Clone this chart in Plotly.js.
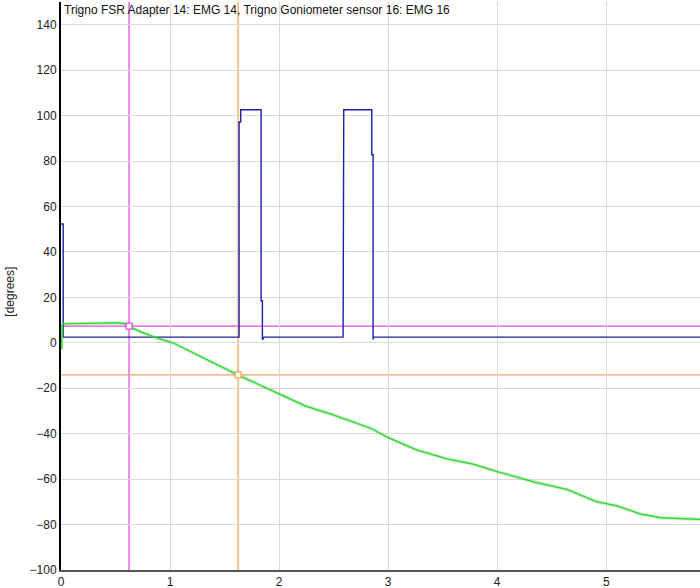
<!DOCTYPE html>
<html>
<head>
<meta charset="utf-8">
<script src="https://cdn.plot.ly/plotly-3.0.1.min.js"></script>
<style>
  html, body { margin: 0; padding: 0; background: #fff; }
  #grafico { width: 700px; height: 588px; }
</style>
</head>
<body>
<div id="grafico"></div>
<script>
// ---------------------------------------------------------------------
// DATOS
// ---------------------------------------------------------------------
const tituloGrafico = "Trigno FSR Adapter 14: EMG 14, Trigno Goniometer sensor 16: EMG 16";
const etiquetaY = "[degrees]";

// EMG 14 (azul): señal escalonada con dos pulsos
const emgX = [0, 0.02, 0.02, 1.633, 1.633, 1.648, 1.648, 1.835, 1.835, 1.847, 1.847, 1.862,
              2.587, 2.587, 2.593, 2.593, 2.850, 2.850, 2.862, 2.862, 2.867, 5.86];
const emgY = [52.3, 52.3, 2.5, 2.5, 97.2, 97.2, 102.6, 102.6, 18.5, 18.5, 1.3, 2.5,
              2.5, 86.9, 86.9, 102.6, 102.6, 82.8, 82.8, 1.5, 2.5, 2.5];

// Goniometro 16 (verde)
const gonioX = [0.005, 0.012, 0.1, 0.3, 0.5, 0.58, 0.62, 0.72, 0.85, 1.03, 1.34, 1.62, 1.95,
                2.25, 2.47, 2.68, 2.84, 3.0, 3.26, 3.54, 3.78, 4.0, 4.18, 4.36, 4.64, 4.91,
                5.1, 5.31, 5.5, 5.68, 5.86];
const gonioY = [-2.8, 8.3, 8.4, 8.7, 8.8, 8.5, 7.3, 5.0, 2.6, -0.1, -7.5, -14.1, -21.4,
                -28.0, -31.3, -34.7, -37.6, -41.7, -47.1, -51.1, -53.4, -56.7, -59.2, -61.5, -64.5, -69.9,
                -71.8, -75.3, -77.0, -77.5, -77.7];

// Cursores (magenta y naranja)
const cursorX = [0.624, 1.624];
const cursorY = [7.3, -14.1];
const cursorColor = ["#E34BE3", "#F0A45C"];

// ---------------------------------------------------------------------
// TRAZAS
// ---------------------------------------------------------------------
const trazaEMG = {
  x: emgX, y: emgY, type: "scatter", mode: "lines",
  line: { color: "#1E1EA6", width: 1.4 }, hoverinfo: "skip",
};

const trazaGonioHalo = {
  x: gonioX, y: gonioY, type: "scatter", mode: "lines",
  line: { color: "rgba(60,220,60,0.30)", width: 3.5 }, hoverinfo: "skip",
};

const trazaGonio = {
  x: gonioX, y: gonioY, type: "scatter", mode: "lines",
  line: { color: "#32D232", width: 1.3 }, hoverinfo: "skip",
};

const trazaMarcas = {
  x: cursorX, y: cursorY, type: "scatter", mode: "markers",
  marker: { symbol: "square", size: 6, color: "#fff", line: { width: 1.3, color: cursorColor } },
  hoverinfo: "skip",
};

// lineas de cursor, en coordenadas de datos
const lineasCursor = [];
cursorX.forEach((cx, i) => {
  lineasCursor.push({
    type: "line", xref: "x", yref: "paper", x0: cx, x1: cx, y0: 0, y1: 1,
    line: { color: cursorColor[i], width: 1.3 }, layer: "below",
  });
  lineasCursor.push({
    type: "line", xref: "paper", yref: "y", x0: 0, x1: 1, y0: cursorY[i], y1: cursorY[i],
    line: { color: cursorColor[i], width: 1.3 }, layer: "below",
  });
});

const fuente = { family: "Liberation Sans, Arial, sans-serif", size: 12, color: "#222" };

const layout = {
  width: 700, height: 588,
  margin: { l: 61, r: 0, t: 2, b: 18, pad: 0 },
  paper_bgcolor: "#fff", plot_bgcolor: "#fff",
  showlegend: false,
  font: fuente,
  xaxis: {
    range: [0, 5.86], dtick: 1, tick0: 0,
    showgrid: true, gridcolor: "#D9D9D9", gridwidth: 1,
    zeroline: false, showline: true, linecolor: "#555", linewidth: 2,
    ticks: "", tickfont: fuente, fixedrange: true,
  },
  yaxis: {
    range: [-100, 150],
    tickvals: [-100, -80, -60, -40, -20, 0, 20, 40, 60, 80, 100, 120, 140],
    showgrid: true, gridcolor: "#D9D9D9", gridwidth: 1,
    zeroline: false, showline: true, linecolor: "#000", linewidth: 2,
    ticks: "", tickfont: fuente, fixedrange: true,
  },
  shapes: lineasCursor,
  annotations: [
    {
      text: tituloGrafico, xref: "paper", yref: "paper", x: 0, y: 1,
      xanchor: "left", yanchor: "top", showarrow: false, xshift: 1, yshift: 1,
      font: { family: "Liberation Sans, Arial, sans-serif", size: 12, color: "#111" },
    },
    {
      text: etiquetaY, xref: "paper", yref: "paper", x: 0, y: 0.49,
      xanchor: "center", yanchor: "middle", showarrow: false, textangle: -90, xshift: -51,
      font: { family: "Liberation Sans, Arial, sans-serif", size: 12, color: "#222" },
    },
  ],
};

Plotly.newPlot("grafico", [trazaEMG, trazaGonioHalo, trazaGonio, trazaMarcas], layout, { staticPlot: true });
</script>
</body>
</html>
